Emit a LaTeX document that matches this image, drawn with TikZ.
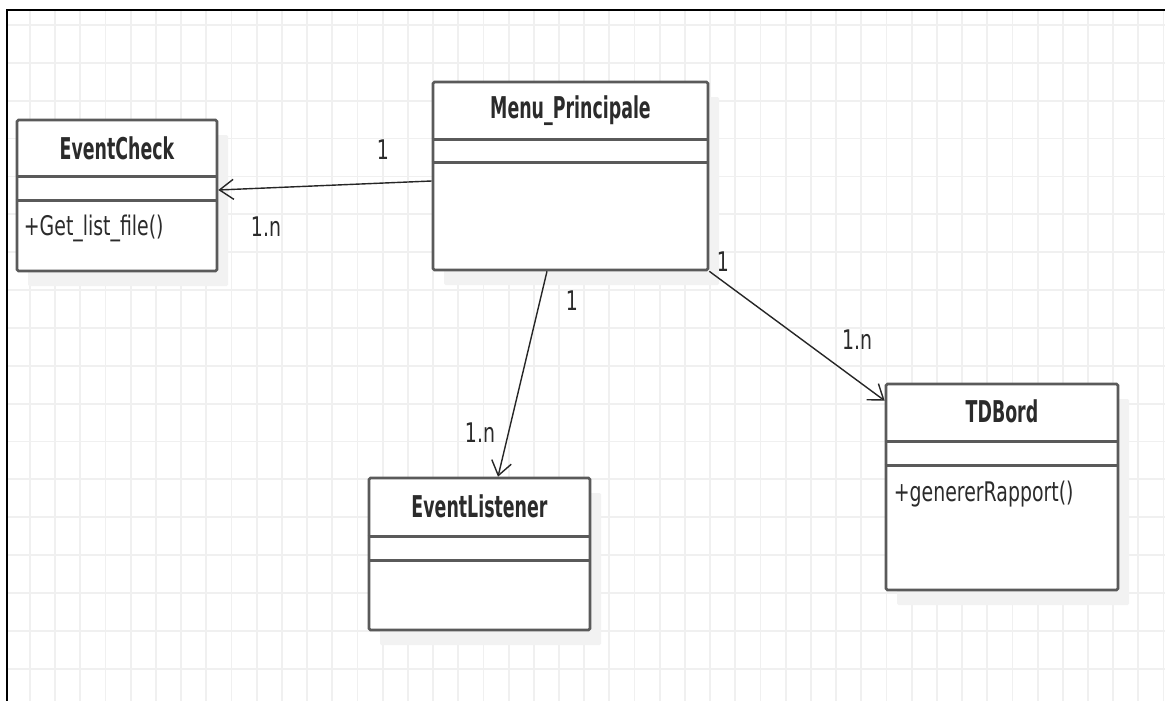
\documentclass[tikz,border=0pt]{standalone}
\usepackage{fontspec}
\setmainfont{DejaVu Sans}[FakeStretch=0.7]
\newfontfamily\classnamefont{DejaVu Sans}[FakeStretch=0.58]
\newfontfamily\memberfont{DejaVu Sans}[FakeStretch=0.7]
\usetikzlibrary{arrows.meta,calc,shadows}
\definecolor{umlline}{HTML}{5A5A5A}
\definecolor{umltext}{HTML}{2B2B2B}
\definecolor{gridc}{HTML}{F0F0F0}

\begin{document}
\begin{tikzpicture}[x=1pt,y=-1pt,
  classbox/.style={draw=umlline, line width=2.6pt, fill=white, rounded corners=1.5pt,
    inner sep=0pt, drop shadow={shadow xshift=11pt, shadow yshift=-15pt, fill=black!5, opacity=1}},
  sepline/.style={draw=umlline, line width=2.6pt},
  title/.style={font=\classnamefont\bfseries\fontsize{30}{34}\selectfont, text=umltext, inner sep=0pt},
  member/.style={font=\memberfont\fontsize{27}{31}\selectfont, text=umltext, anchor=west, inner sep=0pt},
  mult/.style={font=\memberfont\fontsize{27}{31}\selectfont, text=umltext, inner sep=0pt},
  assoc/.style={draw=black!85, line width=1.4pt,
    -{Straight Barb[length=14pt,width=20pt,line width=1.4pt]}},
]
\useasboundingbox (0,0) rectangle (1165,701);
\fill[white] (0,0) rectangle (1165,701);

% background grid
\foreach \i in {0,...,45}
  \draw[gridc, line width=1.8pt] ({30+25.19*\i},10) -- ({30+25.19*\i},701);
\foreach \j in {0,...,17}
  \draw[gridc, line width=1.8pt] (7,{25+37.86*\j}) -- (1165,{25+37.86*\j});

% frame
\draw[black, line width=2pt] (7,701) -- (7,10) -- (1165,10);

% classes
\node[classbox, minimum width=200pt, minimum height=151pt] (ec) at (117,195.5) {};
\node[classbox, minimum width=275pt, minimum height=188pt] (mp) at (570.5,176) {};
\node[classbox, minimum width=232pt, minimum height=206pt] (td) at (1002,487) {};
\node[classbox, minimum width=221pt, minimum height=152pt] (el) at (479.5,554) {};

% compartment separators
\foreach \n/\a/\b in {ec/58/82, mp/59/82, td/59/83, el/60/84} {
  \draw[sepline] ($(\n.north west)+(0,\a)$) -- ($(\n.north east)+(0,\a)$);
  \draw[sepline] ($(\n.north west)+(0,\b)$) -- ($(\n.north east)+(0,\b)$);
}

% class names
\node[title] (ect) at ($(ec.north)+(0,30)$) {EventCheck};
\node[title] (mpt) at ($(mp.north)+(0,30)$) {Menu\_Principale};
\node[title] (tdt) at ($(td.north)+(0,29)$) {TDBord};
\node[title] (elt) at ($(el.north)+(0,30)$) {EventListener};

% operations
\node[member] (ecm) at ($(ec.north west)+(8,110)$) {+Get\_list\_file()};
\node[member] (tdm) at ($(td.north west)+(9,111)$) {+genererRapport()};

% associations
\draw[assoc] ([yshift=-5pt]mp.west) -- ([yshift=5.5pt]ec.east);
\draw[assoc] ([xshift=-23.5pt]mp.south) -- ([xshift=18.5pt]el.north);
\draw[assoc] (mp.south east) -- ([yshift=-18pt]td.north west);

% multiplicities
\node[mult] (m1a) at (383,150) {1};
\node[mult] (m1b) at (266,227) {1.n};
\node[mult] (m2a) at (572,301) {1};
\node[mult] (m2b) at (480,433) {1.n};
\node[mult] (m3a) at (723,262) {1};
\node[mult] (m3b) at (857,340) {1.n};
\end{tikzpicture}
\end{document}
